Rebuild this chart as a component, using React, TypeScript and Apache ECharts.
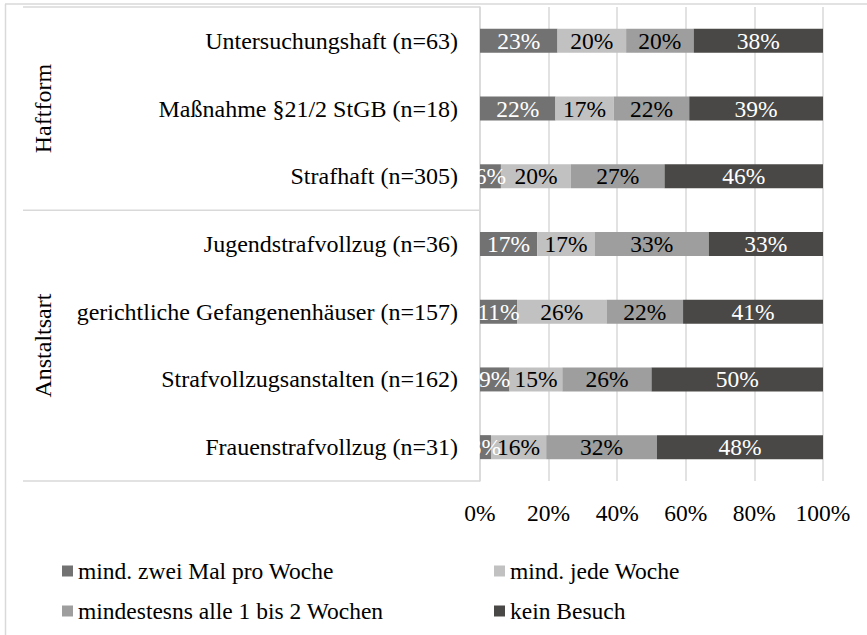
import React, { useEffect, useRef } from "react";
import * as echarts from "echarts";

const categories = [
  "Untersuchungshaft (n=63)",
  "Maßnahme §21/2 StGB (n=18)",
  "Strafhaft (n=305)",
  "Jugendstrafvollzug (n=36)",
  "gerichtliche Gefangenenhäuser (n=157)",
  "Strafvollzugsanstalten (n=162)",
  "Frauenstrafvollzug (n=31)",
];
const groups = [
  { name: "Haftform", from: 0, to: 2 },
  { name: "Anstaltsart", from: 3, to: 6 },
];
const seriesNames = [
  "mind. zwei Mal pro Woche",
  "mind. jede Woche",
  "mindestesns alle 1 bis 2 Wochen",
  "kein Besuch",
];
const zweiMal = [22.6, 22.0, 6.1, 16.7, 10.8, 8.6, 3.2];
const jedeWoche = [20.0, 17.0, 20.4, 16.7, 26.1, 15.4, 16.1];
const alle12 = [19.7, 22.0, 27.3, 33.3, 22.3, 26.0, 32.3];
const keinBesuch = [37.7, 39.0, 46.2, 33.3, 40.8, 50.0, 48.4];
const seriesValues = [zweiMal, jedeWoche, alle12, keinBesuch];
const seriesColors = ["#727272", "#c1c1c1", "#9d9e9d", "#4a4846"];
const labelColors = ["#ffffff", "#000000", "#000000", "#ffffff"];

const FONT = "Liberation Serif";
const FS = 23.5;
const CAT_FS = 24;
const GRID = "#d9d9d9";

export default function App() {
  const ref = useRef<HTMLDivElement>(null);
  useEffect(() => {
    if (!ref.current) return;
    const chart = echarts.init(ref.current, undefined, { renderer: "svg" });
    const legendPos = [
      { left: 62, top: 558 },
      { left: 494, top: 558 },
      { left: 62, top: 598 },
      { left: 494, top: 598 },
    ];
    chart.setOption({
      animation: false,
      backgroundColor: "#ffffff",
      textStyle: { fontFamily: FONT },
      grid: { left: 480, right: 44, top: 7, bottom: 154, containLabel: false },
      legend: seriesNames.map((n, i) => ({
        data: [n],
        left: legendPos[i].left,
        top: legendPos[i].top,
        padding: 0,
        itemWidth: 11,
        itemHeight: 11,
        icon: "rect",
        selectedMode: false,
        textStyle: { fontFamily: FONT, fontSize: FS, color: "#000", lineHeight: 26 },
      })),
      xAxis: {
        type: "value",
        min: 0,
        max: 100,
        interval: 20,
        axisLine: { show: false },
        axisTick: { show: false },
        axisLabel: {
          formatter: "{value}%",
          fontFamily: FONT,
          fontSize: FS,
          color: "#000",
          margin: 20,
        },
        splitLine: { show: true, lineStyle: { color: GRID, width: 1.5 } },
      },
      yAxis: {
        type: "category",
        inverse: true,
        data: categories,
        axisLine: { show: true, lineStyle: { color: GRID, width: 1.5 } },
        axisTick: { show: false },
        axisLabel: { fontFamily: FONT, fontSize: CAT_FS, color: "#000", margin: 22 },
      },
      series: seriesNames.map((n, i) => ({
        name: n,
        type: "bar",
        stack: "total",
        barWidth: 24,
        data: seriesValues[i],
        itemStyle: { color: seriesColors[i] },
        label: {
          show: true,
          position: "inside",
          formatter: (p: any) => Math.round(p.value) + "%",
          fontFamily: FONT,
          fontSize: FS,
          color: labelColors[i],
        },
      })),
    });

    const yOf = (i: number) => chart.convertToPixel({ yAxisIndex: 0 }, i) as number;
    const band = Math.abs(yOf(1) - yOf(0));
    const leftX = chart.convertToPixel({ xAxisIndex: 0 }, 0) as number;
    const bounds: number[] = [yOf(0) - band / 2];
    groups.forEach((g) => bounds.push(yOf(g.to) + band / 2));
    const graphic: any[] = [
      { type: "line", shape: { x1: 5, y1: 4, x2: 867, y2: 4 }, style: { stroke: GRID, lineWidth: 1.5 } },
      { type: "line", shape: { x1: 5.5, y1: 4, x2: 5.5, y2: 635 }, style: { stroke: GRID, lineWidth: 1.5 } },
    ];
    bounds.forEach((y) =>
      graphic.push({
        type: "line",
        shape: { x1: 23, y1: y, x2: leftX, y2: y },
        style: { stroke: GRID, lineWidth: 1.5 },
      })
    );
    groups.forEach((g) => {
      const cy = (yOf(g.from) - band / 2 + yOf(g.to) + band / 2) / 2;
      graphic.push({
        type: "text",
        x: 43,
        y: cy,
        rotation: Math.PI / 2,
        style: {
          text: g.name,
          fontFamily: FONT,
          fontSize: CAT_FS,
          fill: "#000",
          align: "center",
          verticalAlign: "middle",
        },
      });
    });
    chart.setOption({ graphic });
    return () => chart.dispose();
  }, []);
  return (
    <div
      ref={ref}
      style={{ position: "absolute", left: 0, top: 0, width: 867, height: 635 }}
    />
  );
}
